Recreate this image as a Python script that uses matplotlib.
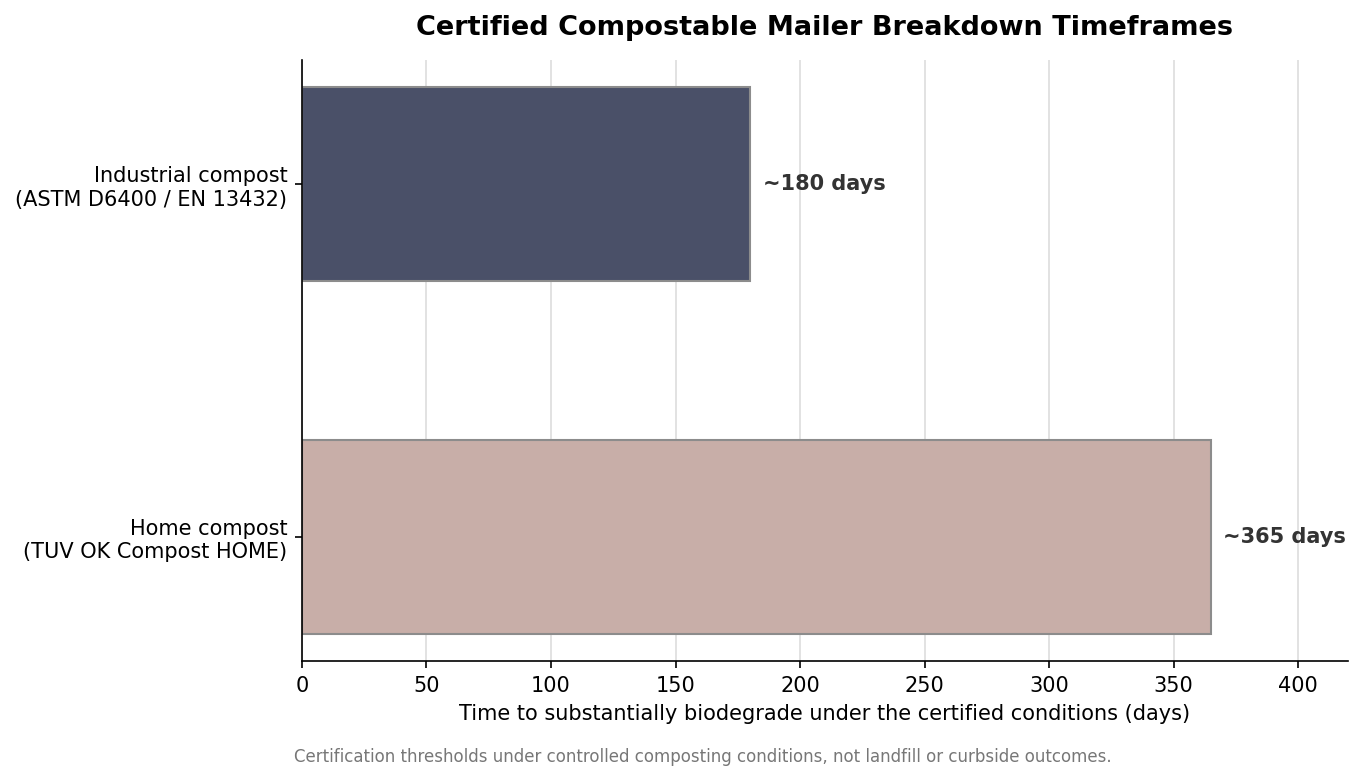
import matplotlib.pyplot as plt

categories = ["Industrial compost\n(ASTM D6400 / EN 13432)",
              "Home compost\n(TUV OK Compost HOME)"]
days = [180, 365]
labels = ["~180 days", "~365 days"]
colors = ["#4a5068", "#c8aea8"]

fig, ax = plt.subplots(figsize=(9.08, 5.207), dpi=150)
fig.subplots_adjust(left=0.2217, right=0.9897, top=0.923, bottom=0.1536)

ax.barh(categories, days, height=0.55, color=colors, edgecolor="#8c8c8c",
        linewidth=1.0, zorder=2)
ax.invert_yaxis()
for i, (v, t) in enumerate(zip(days, labels)):
    ax.text(v + 5, i, t, va="center", ha="left", fontsize=10,
            fontweight="bold", color="#333333")

ax.set_xlim(0, 420)
ax.set_xticks(range(0, 401, 50))
ax.grid(axis="x", color="#dddddd", linewidth=0.8, zorder=0)
ax.set_axisbelow(True)
for s in ["top", "right"]:
    ax.spines[s].set_visible(False)
ax.tick_params(labelsize=10)
ax.set_xlabel("Time to substantially biodegrade under the certified conditions (days)",
              fontsize=10)
ax.set_title("Certified Compostable Mailer Breakdown Timeframes",
             fontsize=13, fontweight="bold", pad=12)
fig.text(0.216, 0.025, "Certification thresholds under controlled composting conditions, not landfill or curbside outcomes.",
         fontsize=8, color="#777777", ha="left")

fig.savefig("out.png", dpi=150)
